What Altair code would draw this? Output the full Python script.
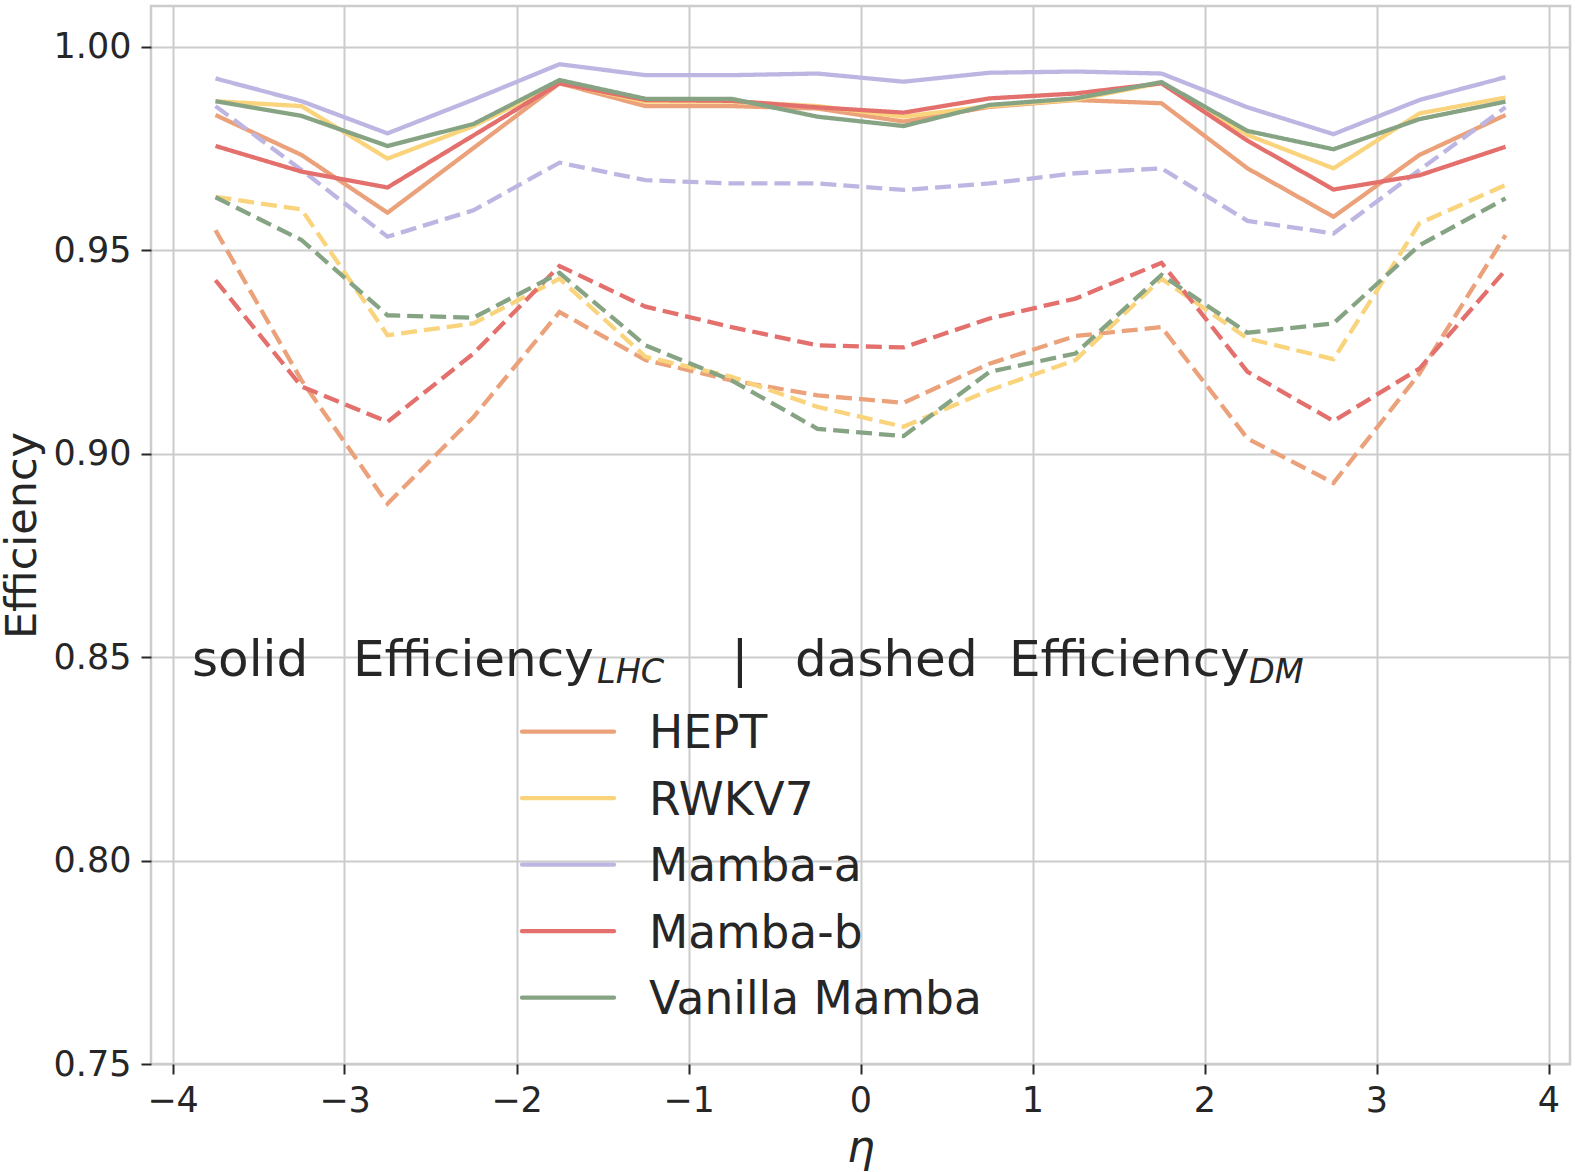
import altair as alt
import pandas as pd

eta = [-3.75, -3.25, -2.75, -2.25, -1.75, -1.25, -0.75, -0.25,
       0.25, 0.75, 1.25, 1.75, 2.25, 2.75, 3.25, 3.75]

models = ["HEPT", "RWKV7", "Mamba-a", "Mamba-b", "Vanilla Mamba"]
colors = ["#EBA27B", "#F9D47C", "#BEB6E2", "#E3706C", "#86A484"]

hept_lhc = [0.9832, 0.9734, 0.9592, 0.9751, 0.9910, 0.9854, 0.9854, 0.9848,
            0.9816, 0.9852, 0.9869, 0.9861, 0.9701, 0.9582, 0.9734, 0.9832]
hept_dm = [0.9549, 0.9180, 0.8877, 0.9090, 0.9348, 0.9230, 0.9180, 0.9143,
           0.9125, 0.9221, 0.9289, 0.9311, 0.9037, 0.8928, 0.9197, 0.9537]
rwkv_lhc = [0.9866, 0.9854, 0.9725, 0.9805, 0.9911, 0.9865, 0.9865, 0.9854,
            0.9828, 0.9854, 0.9870, 0.9911, 0.9783, 0.9701, 0.9836, 0.9875]
rwkv_dm = [0.9631, 0.9600, 0.9291, 0.9320, 0.9430, 0.9238, 0.9189, 0.9115,
           0.9066, 0.9156, 0.9230, 0.9430, 0.9283, 0.9232, 0.9566, 0.9660]
ma_lhc = [0.9922, 0.9866, 0.9787, 0.9870, 0.9957, 0.9930, 0.9930, 0.9934,
          0.9914, 0.9936, 0.9939, 0.9934, 0.9851, 0.9785, 0.9869, 0.9925]
ma_dm = [0.9854, 0.9697, 0.9533, 0.9598, 0.9715, 0.9672, 0.9664, 0.9664,
         0.9648, 0.9664, 0.9689, 0.9701, 0.9572, 0.9541, 0.9697, 0.9851]
mb_lhc = [0.9756, 0.9693, 0.9654, 0.9782, 0.9910, 0.9869, 0.9867, 0.9851,
          0.9838, 0.9873, 0.9885, 0.9910, 0.9769, 0.9649, 0.9684, 0.9754]
mb_dm = [0.9426, 0.9165, 0.9078, 0.9246, 0.9461, 0.9361, 0.9311, 0.9266,
         0.9261, 0.9332, 0.9381, 0.9469, 0.9201, 0.9080, 0.9209, 0.9451]
vm_lhc = [0.9866, 0.9830, 0.9756, 0.9810, 0.9918, 0.9872, 0.9872, 0.9828,
          0.9805, 0.9857, 0.9873, 0.9913, 0.9793, 0.9748, 0.9822, 0.9865]
vm_dm = [0.9630, 0.9525, 0.9340, 0.9334, 0.9444, 0.9266, 0.9180, 0.9061,
         0.9043, 0.9201, 0.9246, 0.9439, 0.9297, 0.9320, 0.9512, 0.9627]

x_ticks = [-4, -3, -2, -1, 0, 1, 2, 3, 4]
y_ticks = [0.75, 0.80, 0.85, 0.90, 0.95, 1.00]

series = {
    ("HEPT", "LHC"): hept_lhc, ("HEPT", "DM"): hept_dm,
    ("RWKV7", "LHC"): rwkv_lhc, ("RWKV7", "DM"): rwkv_dm,
    ("Mamba-a", "LHC"): ma_lhc, ("Mamba-a", "DM"): ma_dm,
    ("Mamba-b", "LHC"): mb_lhc, ("Mamba-b", "DM"): mb_dm,
    ("Vanilla Mamba", "LHC"): vm_lhc, ("Vanilla Mamba", "DM"): vm_dm,
}
rows = []
for (m, metric), vals in series.items():
    for e, v in zip(eta, vals):
        rows.append({"eta": e, "model": m, "metric": metric, "value": v})
df = pd.DataFrame(rows)

FONT = "DejaVu Sans"
color_scale = alt.Scale(domain=models, range=colors)

lines = alt.Chart(df).mark_line(strokeWidth=4.3).encode(
    x=alt.X("eta:Q", scale=alt.Scale(domain=[-4.125, 4.125], nice=False, zero=False),
            axis=alt.Axis(values=x_ticks, format="d", title="η",
                          labelExpr="replace(datum.label, '-', '−')",
                          titleFontStyle="italic", titleFontSize=44,
                          titlePadding=8, labelPadding=9)),
    y=alt.Y("value:Q", scale=alt.Scale(domain=[0.75, 1.01], nice=False, zero=False),
            axis=alt.Axis(values=y_ticks, format=".2f", title="Efficiency",
                          titleFontSize=43, titlePadding=9, labelPadding=10)),
    color=alt.Color("model:N", scale=color_scale, legend=None),
    strokeDash=alt.StrokeDash("metric:N",
                              scale=alt.Scale(domain=["LHC", "DM"], range=[[1, 0], [16, 7]]),
                              legend=None),
    detail="metric:N",
)

leg_df = pd.DataFrame({"model": models})
row_scale = alt.Scale(type="point", domain=models, range=[725.7, 991.7], padding=0)

leg_lines = alt.Chart(leg_df).mark_rule(strokeWidth=4.3, strokeCap="round").encode(
    x=alt.value(371), x2=alt.value(463),
    y=alt.Y("model:N", scale=row_scale, axis=None),
    color=alt.Color("model:N", scale=color_scale, legend=None),
)
leg_text = alt.Chart(leg_df).mark_text(
    align="left", baseline="alphabetic", dy=16.6, fontSize=45.5, font=FONT, color="#262626"
).encode(
    x=alt.value(498),
    y=alt.Y("model:N", scale=row_scale, axis=None),
    text="model:N",
)

header_text = ["solid", "Efficiency", "LHC", "|", "dashed", "Efficiency", "DM"]
header_df = pd.DataFrame({"t": header_text})


def piece(i, xpos, ypos, size, style="normal", align="left"):
    return alt.Chart(header_df.iloc[[i]]).mark_text(
        align=align, baseline="alphabetic", fontSize=size, fontStyle=style,
        font=FONT, color="#262626"
    ).encode(x=alt.value(xpos), y=alt.value(ypos), text="t:N")


header = alt.layer(
    piece(0, 41, 670, 50),
    piece(1, 202, 670, 50),
    piece(2, 446, 677, 33.5, "italic"),
    piece(3, 589, 670, 50, align="center"),
    piece(4, 644, 670, 50),
    piece(5, 858, 670, 50),
    piece(6, 1098, 677, 33.5, "italic"),
)

legend_layer = alt.layer(leg_lines, leg_text, header)

chart = alt.layer(lines, legend_layer).resolve_scale(y="independent").properties(
    width=1419, height=1058,
    padding={"left": 151, "top": 6, "right": 5, "bottom": 108},
    autosize="none",
    background="white",
).configure_view(
    stroke="#cccccc", strokeWidth=2.5
).configure_axis(
    labelFont=FONT, titleFont=FONT, labelFontSize=35, labelColor="#262626",
    titleColor="#262626", titleFontWeight="normal",
    tickColor="#262626", tickSize=10, tickWidth=2,
    grid=True, gridColor="#cccccc", gridWidth=2, domain=False,
)

chart.save("out.html", embed_options={"renderer": "svg", "actions": False})
